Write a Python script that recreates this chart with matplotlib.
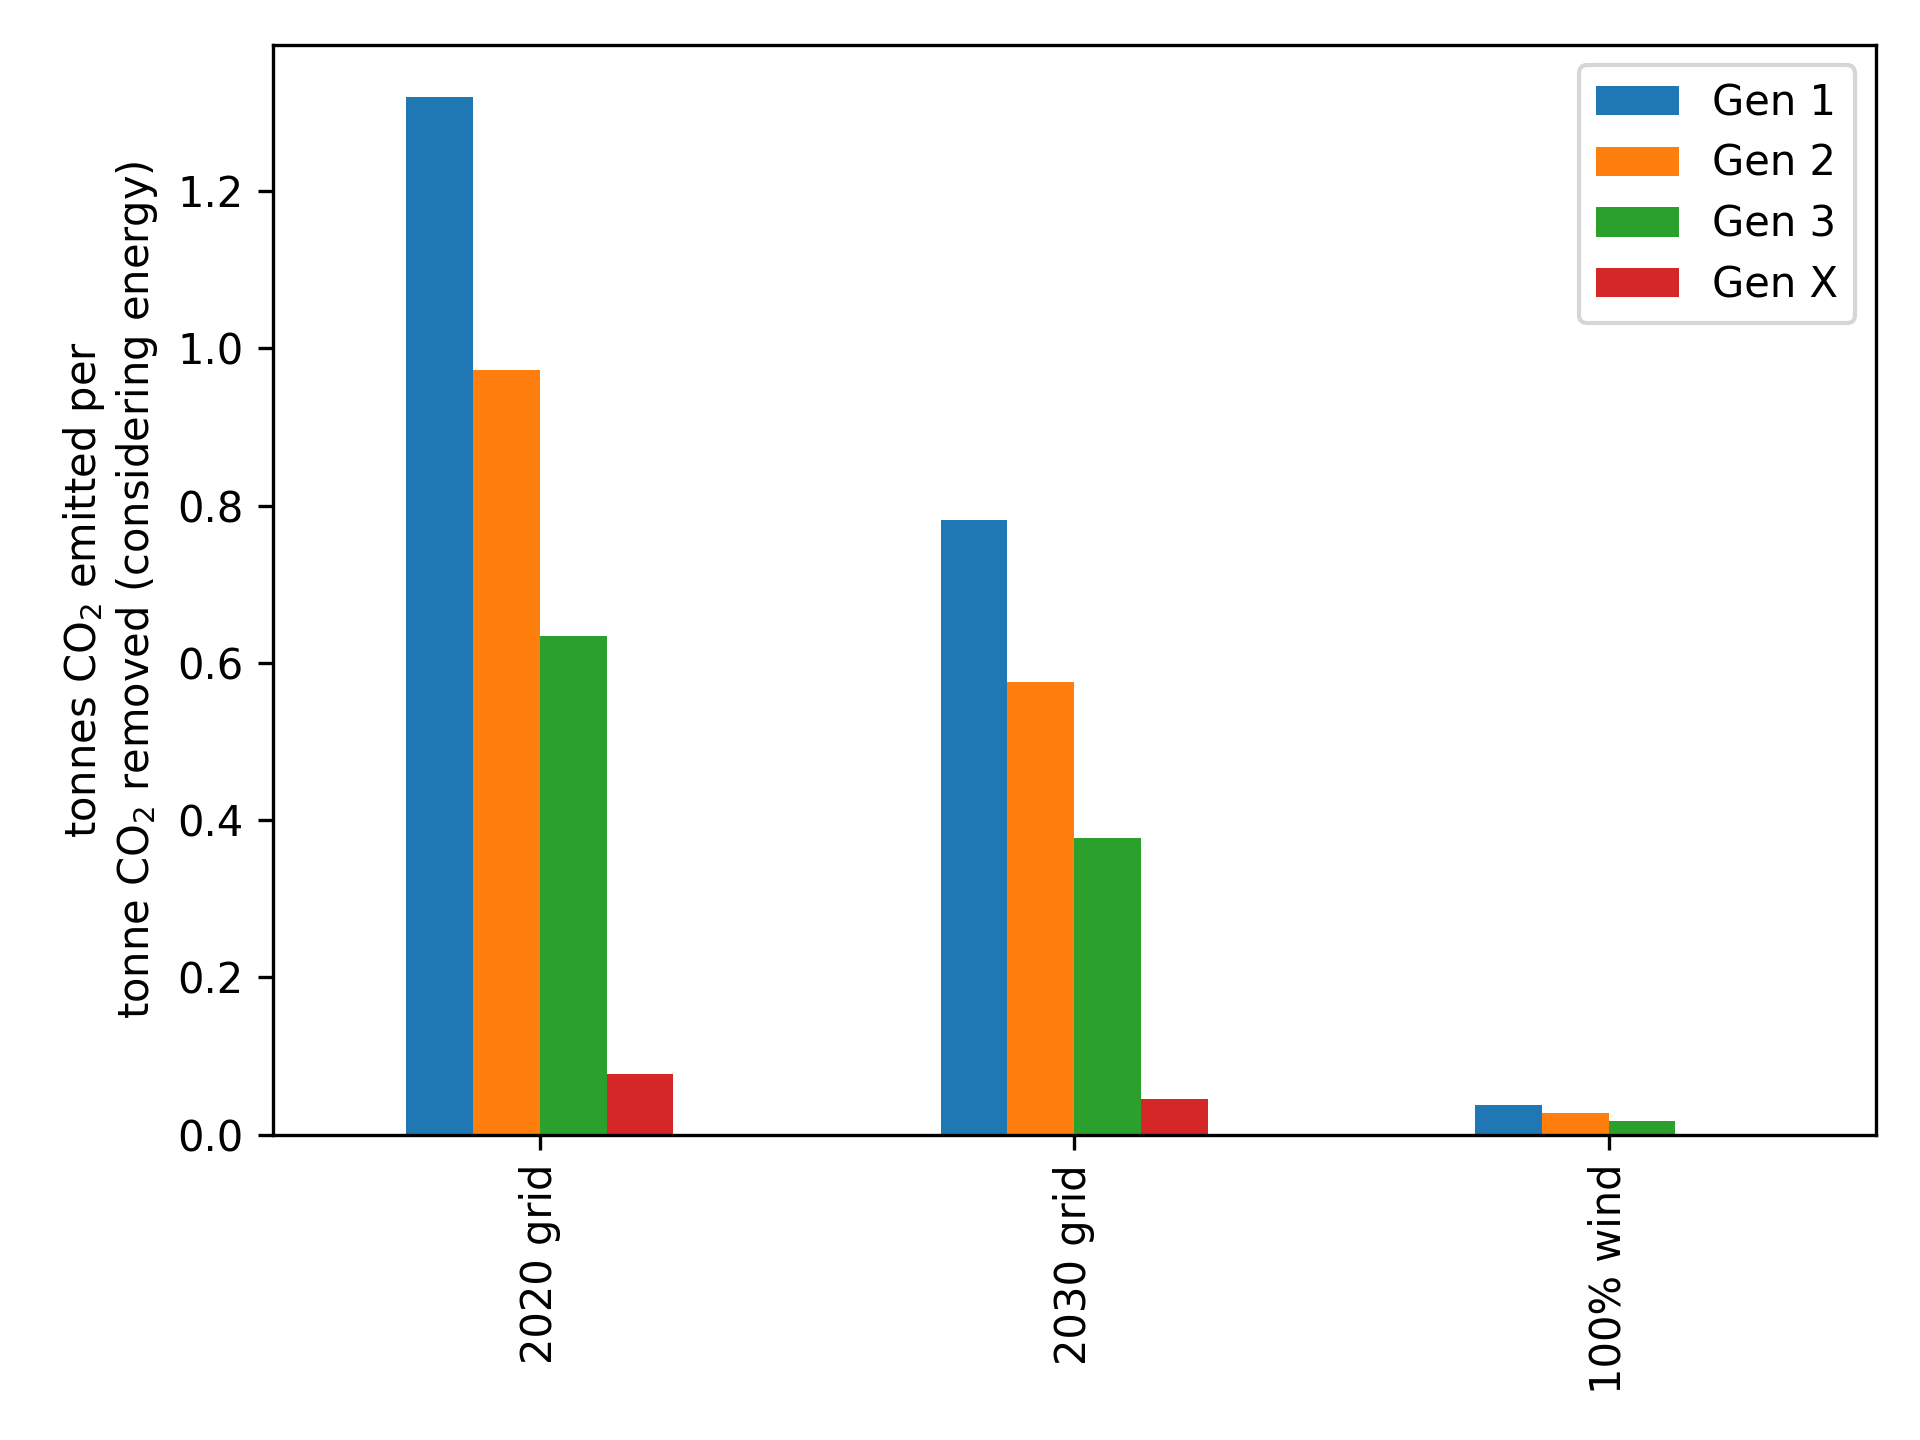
import matplotlib
matplotlib.use("Agg")
import matplotlib.pyplot as plt
import numpy as np
import pandas as pd

scenarios = ["2020 grid", "2030 grid", "100% wind"]
gen_1 = [1.320, 0.782, 0.038]
gen_2 = [0.972, 0.575, 0.028]
gen_3 = [0.634, 0.377, 0.018]
gen_x = [0.077, 0.046, np.nan]

df = pd.DataFrame(
	{"Gen 1": gen_1, "Gen 2": gen_2, "Gen 3": gen_3, "Gen X": gen_x},
	index=scenarios,
)

fig, ax = plt.subplots(figsize=(6.4, 4.8))
df.plot.bar(ax=ax)
ax.set_ylabel("tonnes CO$_2$ emitted per\ntonne CO$_2$ removed (considering energy)")
ax.legend(loc="upper right", labelspacing=0.45)
fig.subplots_adjust(left=0.142, right=0.977, top=0.969, bottom=0.212)
fig.savefig("out.png", dpi=300)
